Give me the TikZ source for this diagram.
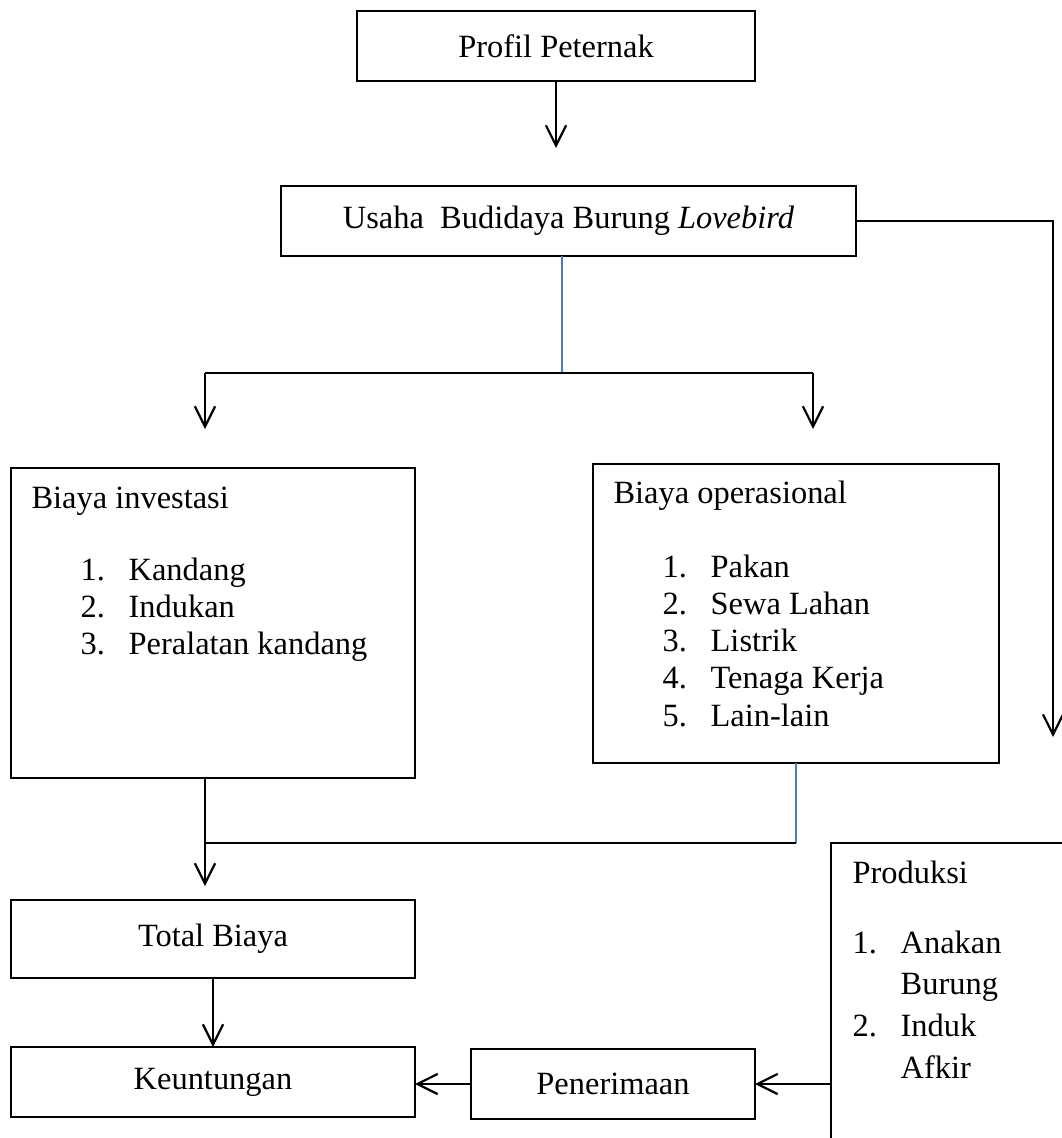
\documentclass[tikz,border=0pt]{standalone}
\usepackage{fontspec}
\setmainfont{Liberation Serif}
\usepackage{tikz}
\usetikzlibrary{arrows.meta,positioning}
\definecolor{eBlue}{HTML}{4A7EBB}
\tikzset{kotak/.style={rectangle, draw, line width=0.6pt, inner sep=0pt, outer sep=0pt}}
\tikzset{teks/.style={inner sep=0pt, anchor=base west}}
\tikzset{k/.style={draw, line width=0.8pt, -{Straight Barb[length=7.5pt,width=7.5pt]}}}
\tikzset{kk/.style={draw, line width=0.8pt}}
\tikzset{bb/.style={draw, line width=0.5pt, eBlue}}
\newcommand{\butir}[2]{\makebox[17.8pt][l]{#1}#2}

\begin{document}
\begin{tikzpicture}[x=0.013cm, y=-0.013cm, font=\fontsize{12}{13.8}\selectfont]
            \useasboundingbox (0,0) rectangle (1062,1138);
            \clip (0,0) rectangle (1062,1138);
            %%
            \node (prof) at (556,46) [kotak, minimum width=5.174cm, minimum height=0.91cm] {Profil Peternak};
            \node (usaha) at (568.5,221) [kotak, minimum width=7.475cm, minimum height=0.91cm] {Usaha~ Budidaya Burung \textit{Lovebird}};
            \node (invest) at (213,623) [kotak, minimum width=5.252cm, minimum height=4.03cm] {};
            \node (oper) at (796,613.5) [kotak, minimum width=5.278cm, minimum height=3.887cm] {};
            \node (total) at (213,939) [kotak, minimum width=5.252cm, minimum height=1.014cm] {Total Biaya};
            \node (untung) at (213,1082) [kotak, minimum width=5.252cm, minimum height=0.91cm] {Keuntungan};
            \node (terima) at (613,1084) [kotak, minimum width=3.692cm, minimum height=0.91cm] {Penerimaan};
            \node (prod) at (981,1043) [kotak, minimum width=3.9cm, minimum height=5.2cm] {};
            %%
            \node (investjudul) at (31,508) [teks] {Biaya investasi};
            \node (investisi) at (80,580) [teks] {\begin{tabular}[t]{@{}l@{}}
                \butir{1.}{Kandang}\\
                \butir{2.}{Indukan}\\
                \butir{3.}{Peralatan kandang}
              \end{tabular}};
            \node (operjudul) at (613,503) [teks] {Biaya operasional};
            \node (operisi) at (662,577) [teks] {\begin{tabular}[t]{@{}l@{}}
                \butir{1.}{Pakan}\\
                \butir{2.}{Sewa Lahan}\\
                \butir{3.}{Listrik}\\
                \butir{4.}{Tenaga Kerja}\\
                \butir{5.}{Lain-lain}
              \end{tabular}};
            \node (prodjudul) at (852,883) [teks] {Produksi};
            \node (prodisi) at (852,953) [teks, font=\fontsize{12}{15.5}\selectfont] {\begin{tabular}[t]{@{}l@{}}
                \butir{1.}{Anakan}\\
                \butir{}{Burung}\\
                \butir{2.}{Induk}\\
                \butir{}{Afkir}
              \end{tabular}};
            %%
            \coordinate (ujung1) at (556,148);
            \coordinate (cabang) at (562,373);
            \coordinate (kiri) at (205,373);
            \coordinate (kanan) at (813,373);
            \coordinate (ujung2) at (205,429);
            \coordinate (ujung3) at (813,429);
            \coordinate (ujung4) at (1053,737);
            \coordinate (gabung) at (205,843);
            \coordinate (ujung5) at (205,886);
            %%
            \draw [k] (prof.south) to (ujung1);
            \draw [bb] (cabang |- usaha.south) to (cabang);
            \draw [kk] (kiri) to (kanan);
            \draw [k] (kiri) to (ujung2);
            \draw [k] (kanan) to (ujung3);
            \draw [k] (usaha.east) -| (ujung4);
            %%
            \draw [k] (ujung5 |- invest.south) to (ujung5);
            \draw [bb] (oper.south) to (oper.south |- gabung);
            \draw [kk] (oper.south |- gabung) to (gabung);
            \draw [k] (total.south) to (untung.north);
            \draw [k] (terima.west) to (terima.west -| untung.east);
            \draw [k] (terima.east -| prod.west) to (terima.east);
\end{tikzpicture}
\end{document}
